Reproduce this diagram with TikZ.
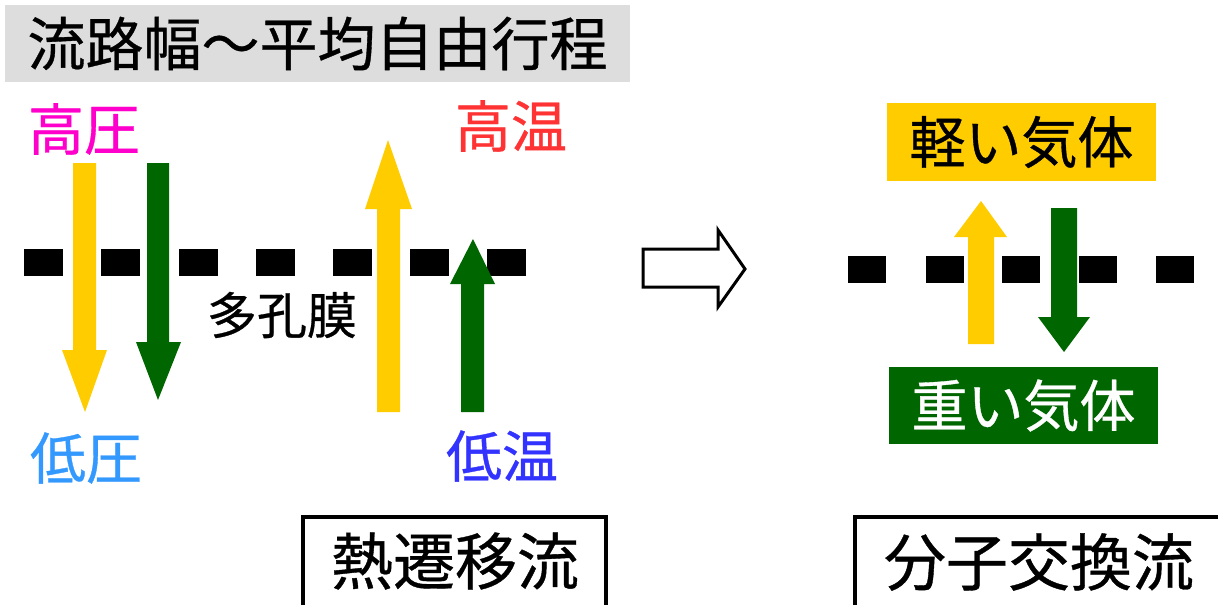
\documentclass[tikz,border=0pt]{standalone}
\usepackage{fontspec}
\newfontfamily\jp[FakeBold=0.6]{Noto Sans CJK JP}
\definecolor{myyellow}{HTML}{FFCC00}
\definecolor{mygreen}{HTML}{006600}
\definecolor{mygrey}{HTML}{DDDDDD}
\definecolor{mymagenta}{HTML}{FF00CC}
\definecolor{myred}{HTML}{FF3333}
\definecolor{mylightblue}{HTML}{3399FF}
\definecolor{myblue}{HTML}{3333FF}
\tikzset{
  lbl/.style={inner sep=0pt, font=\jp\fontsize{56}{60}\selectfont},
  dashbox/.style={fill=black},
  yarrow/.style={fill=myyellow},
  garrow/.style={fill=mygreen},
  frame/.style={draw=black, line width=4pt},
}
\begin{document}
\begin{tikzpicture}[x=1pt,y=-1pt]
\useasboundingbox (0,0) rectangle (1218,605);
\fill[white] (0,0) rectangle (1218,605);
% title
\node[fill=mygrey, minimum width=625pt, minimum height=77pt, inner sep=0pt,
      font=\jp\fontsize{58}{60}\selectfont] (title) at (317.5,43.5) {流路幅～平均自由行程};
% left membrane dashes
\foreach \x in {24,101,179,256,333,410,487}
  \fill[dashbox] (\x,249) rectangle ++(39,27);
% left arrows
\fill[yarrow] (73,163) -- (96,163) -- (96,350) -- (107,350) -- (85,412) -- (62,350) -- (73,350) -- cycle;
\fill[garrow] (147,163) -- (169,163) -- (169,342) -- (181,342) -- (158,400) -- (136,342) -- (147,342) -- cycle;
\fill[yarrow] (377,412) -- (400,412) -- (400,209) -- (412,209) -- (388,140) -- (365,209) -- (377,209) -- cycle;
\fill[garrow] (461,412) -- (484,412) -- (484,284) -- (495,284) -- (473,239) -- (450,284) -- (461,284) -- cycle;
% left labels
\node[lbl, text=mymagenta] (hp) at (84,129) {高圧};
\node[lbl, text=mylightblue] (lp) at (86,458) {低圧};
\node[lbl, text=myred] (ht) at (511,126) {高温};
\node[lbl, text=myblue] (lt) at (502,456) {低温};
\node[lbl, font=\jp\fontsize{50}{54}\selectfont] (mem) at (282,315) {多孔膜};
% hollow arrow
\draw[line width=3pt, line join=miter, fill=white] (643,249) -- (718,249) -- (718,230) -- (745,269) -- (718,307) -- (718,287) -- (643,287) -- cycle;
% right membrane dashes
\foreach \x in {848,926,1002,1079,1156}
  \fill[dashbox] (\x,256) rectangle ++(38,27);
% right arrows
\fill[yarrow] (968,344) -- (994,344) -- (994,237) -- (1007,237) -- (981,201) -- (954,237) -- (968,237) -- cycle;
\fill[garrow] (1051,208) -- (1077,208) -- (1077,317) -- (1090,317) -- (1064,352) -- (1038,317) -- (1051,317) -- cycle;
% right boxes
\node[fill=myyellow, minimum width=269pt, minimum height=78pt, inner sep=0pt,
      font=\jp\fontsize{56}{60}\selectfont] (light) at (1021.5,142) {軽い気体};
\node[fill=mygreen, text=white, minimum width=269pt, minimum height=77pt, inner sep=0pt,
      font=\jp\fontsize{56}{60}\selectfont] (heavy) at (1023.5,405.5) {重い気体};
% bottom framed labels
\draw[frame] (303,605) -- (303,517) -- (606,517) -- (606,605);
\node[lbl, font=\jp\fontsize{62}{66}\selectfont] (thermal) at (455,561) {熱遷移流};
\draw[frame] (855,605) -- (855,517) -- (1218,517);
\node[lbl, font=\jp\fontsize{62}{66}\selectfont] (molex) at (1039,562) {分子交換流};
\end{tikzpicture}
\end{document}
